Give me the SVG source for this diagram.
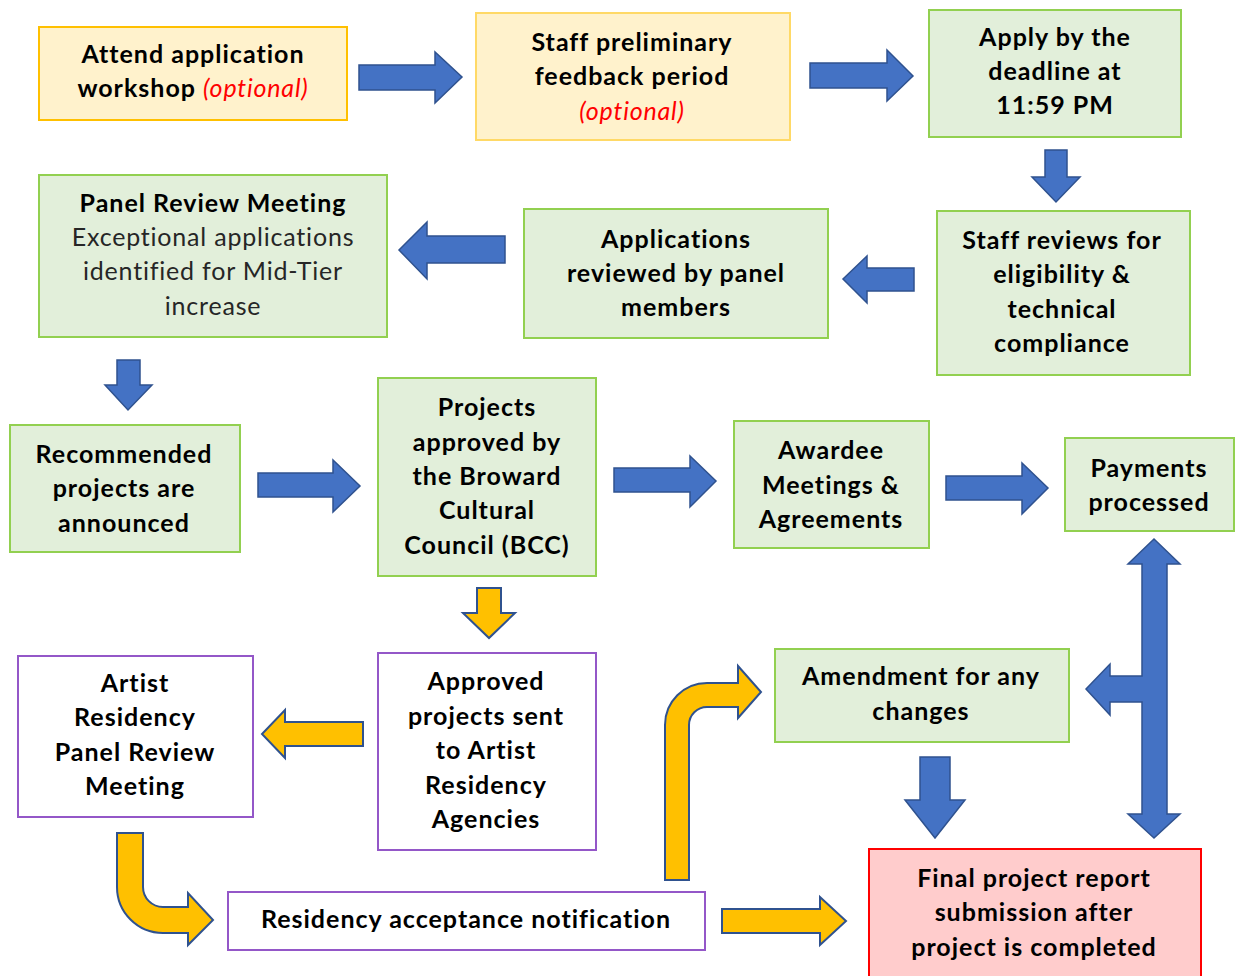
<svg xmlns="http://www.w3.org/2000/svg" width="1236" height="976" viewBox="0 0 1236 976">
<style>
text{font-family:Lato,"Open Sans","Liberation Sans",sans-serif;font-size:25px;font-weight:bold;letter-spacing:1px;fill:#000;text-anchor:middle}
.reg{font-weight:normal;fill:#262626;letter-spacing:0.8px}
.opt{font-weight:normal;font-style:italic;fill:#FF0000;letter-spacing:0.8px}
.yel{fill:#FFF2CC;stroke:#FFC000;stroke-width:2}
.yel2{fill:#FFF2CC;stroke:#FFD966;stroke-width:2}
.grn{fill:#E2EFDA;stroke:#92D050;stroke-width:2}
.pur{fill:#FFFFFF;stroke:#9457C8;stroke-width:2}
.red{fill:#FFCCCC;stroke:#FF0000;stroke-width:2}
.ab{fill:#4472C4;stroke:#2F528F;stroke-width:1.5;stroke-linejoin:miter}
.ay{fill:#FFC000;stroke:#2F528F;stroke-width:2;stroke-linejoin:miter}
</style>
<rect width="1236" height="976" fill="#FFFFFF"/>
<g id="connectors">
<path class="ab" d="M359,65 L435,65 L435,52 L462,77 L435,103 L435,90 L359,90 Z"/>
<path class="ab" d="M810,63 L887,63 L887,50 L913,76 L887,101 L887,88 L810,88 Z"/>
<path class="ab" d="M1045,150 L1067,150 L1067,177 L1080,177 L1056,202 L1032,177 L1045,177 Z"/>
<path class="ab" d="M914,268 L867,268 L867,256 L843,279 L867,303 L867,291 L914,291 Z"/>
<path class="ab" d="M505,236 L427,236 L427,222 L399,250 L427,279 L427,263 L505,263 Z"/>
<path class="ab" d="M117,360 L140,360 L140,385 L152,385 L128,410 L105,385 L117,385 Z"/>
<path class="ab" d="M258,473 L333,473 L333,460 L360,486 L333,512 L333,497 L258,497 Z"/>
<path class="ab" d="M614,468 L690,468 L690,456 L716,481 L690,507 L690,492 L614,492 Z"/>
<path class="ab" d="M946,476 L1022,476 L1022,463 L1048,488 L1022,514 L1022,500 L946,500 Z"/>
<path class="ay" d="M477,588 L501,588 L501,613 L515,613 L489,638 L463,613 L477,613 Z"/>
<path class="ay" d="M363,722 L285,722 L285,710 L262,734 L285,758 L285,746 L363,746 Z"/>
<path class="ay" d="M117,833 L143,833 L143,887 A20,20 0 0 0 163,907 L188,907 L188,893 L213,920 L188,945 L188,933 L163,933 A46,46 0 0 1 117,887 Z"/>
<path class="ay" d="M665,880 L689,880 L689,725 A18,18 0 0 1 707,707 L738,707 L738,718 L761,692 L738,666 L738,683 L707,683 A42,42 0 0 0 665,725 Z"/>
<path class="ay" d="M722,909 L820,909 L820,897 L846,921 L820,945 L820,933 L722,933 Z"/>
<path class="ab" d="M920,757 L950,757 L950,800 L965,800 L935,838 L905,800 L920,800 Z"/>
<path class="ab" d="M1142,564 L1128,564 L1154,539 L1180,564 L1167,564 L1167,814 L1180,814 L1154,838 L1128,814 L1142,814 L1142,702 L1110,702 L1110,715 L1086,689 L1110,664 L1110,676 L1142,676 Z"/>
</g>
<g id="n1"><rect class="yel" x="39" y="27" width="308" height="93"/><text x="193" y="63">Attend application</text><text x="193" y="97">workshop <tspan class="opt">(optional)</tspan></text></g>
<g id="n2"><rect class="yel2" x="476" y="13" width="314" height="127"/><text x="632" y="51">Staff preliminary</text><text x="632" y="85">feedback period</text><text x="632" y="120" class="opt">(optional)</text></g>
<g id="n3"><rect class="grn" x="929" y="10" width="252" height="127"/><text x="1055" y="46">Apply by the</text><text x="1055" y="80">deadline at</text><text x="1055" y="114">11:59 PM</text></g>
<g id="n4"><rect class="grn" x="937" y="211" width="253" height="164"/><text x="1062" y="249">Staff reviews for</text><text x="1062" y="283">eligibility &amp;</text><text x="1062" y="318">technical</text><text x="1062" y="352">compliance</text></g>
<g id="n5"><rect class="grn" x="524" y="209" width="304" height="129"/><text x="676" y="248">Applications</text><text x="676" y="282">reviewed by panel</text><text x="676" y="316">members</text></g>
<g id="n6"><rect class="grn" x="39" y="175" width="348" height="162"/><text x="213" y="212">Panel Review Meeting</text><text x="213" y="246" class="reg">Exceptional applications</text><text x="213" y="280" class="reg">identified for Mid-Tier</text><text x="213" y="315" class="reg">increase</text></g>
<g id="n7"><rect class="grn" x="10" y="425" width="230" height="127"/><text x="124" y="463">Recommended</text><text x="124" y="497">projects are</text><text x="124" y="532">announced</text></g>
<g id="n8"><rect class="grn" x="378" y="378" width="218" height="198"/><text x="487" y="416">Projects</text><text x="487" y="451">approved by</text><text x="487" y="485">the Broward</text><text x="487" y="519">Cultural</text><text x="487" y="554">Council (BCC)</text></g>
<g id="n9"><rect class="grn" x="734" y="421" width="195" height="127"/><text x="831" y="459">Awardee</text><text x="831" y="494">Meetings &amp;</text><text x="831" y="528">Agreements</text></g>
<g id="n10"><rect class="grn" x="1065" y="438" width="169" height="93"/><text x="1149" y="477">Payments</text><text x="1149" y="511">processed</text></g>
<g id="n11"><rect class="pur" x="378" y="653" width="218" height="197"/><text x="486" y="690">Approved</text><text x="486" y="725">projects sent</text><text x="486" y="759">to Artist</text><text x="486" y="794">Residency</text><text x="486" y="828">Agencies</text></g>
<g id="n12"><rect class="pur" x="18" y="656" width="235" height="161"/><text x="135" y="692">Artist</text><text x="135" y="726">Residency</text><text x="135" y="761">Panel Review</text><text x="135" y="795">Meeting</text></g>
<g id="n13"><rect class="pur" x="228" y="892" width="477" height="58"/><text x="466" y="928">Residency acceptance notification</text></g>
<g id="n14"><rect class="grn" x="775" y="649" width="294" height="93"/><text x="921" y="685">Amendment for any</text><text x="921" y="720">changes</text></g>
<g id="n15"><rect class="red" x="869" y="849" width="332" height="140"/><text x="1034" y="887">Final project report</text><text x="1034" y="921">submission after</text><text x="1034" y="956">project is completed</text></g>
</svg>
